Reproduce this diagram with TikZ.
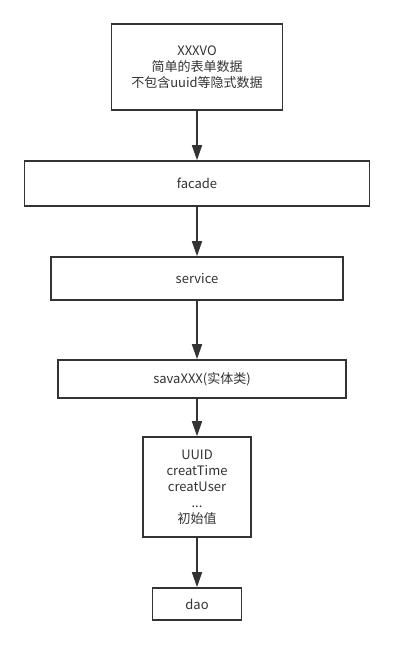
\documentclass[tikz,border=0pt]{standalone}
\usepackage{fontspec}
\setmainfont{Noto Sans CJK SC}
\usetikzlibrary{arrows.meta}
\definecolor{ink}{HTML}{333333}
\tikzset{
  box/.style={draw=ink, line width=1.6pt, fill=white, text=ink, align=center,
    inner sep=0pt, font=\fontsize{13}{16}\selectfont},
  flow/.style={draw=ink, line width=1.6pt, -{Triangle[length=15pt,width=10pt]}},
}
\begin{document}
\begin{tikzpicture}[x=1pt,y=-1pt]
\useasboundingbox[fill=white] (0,0) rectangle (395,645);
% boxes
\node[box, minimum width=171pt, minimum height=86pt] (vo) at (197,67)
  {XXXVO\\简单的表单数据\\不包含uuid等隐式数据};
\node[box, minimum width=345pt, minimum height=45pt] (facade) at (197,183.5) {facade};
\node[box, minimum width=292pt, minimum height=43pt] (service) at (197,278.5) {service};
\node[box, minimum width=288pt, minimum height=38pt] (sava) at (202,379) {savaXXX(实体类)};
\node[box, minimum width=108pt, minimum height=100pt] (init) at (197,487)
  {UUID\\creatTime\\creatUser\\...\\初始值};
\node[box, minimum width=89pt, minimum height=32pt] (dao) at (197,604) {dao};
% arrows
\draw[flow] (vo.south) -- (facade.north);
\draw[flow] (facade.south) -- (service.north);
\draw[flow] (service.south) -- (service.south |- sava.north);
\draw[flow] (service.south |- sava.south) -- (init.north);
\draw[flow] (init.south) -- (dao.north);
\end{tikzpicture}
\end{document}
